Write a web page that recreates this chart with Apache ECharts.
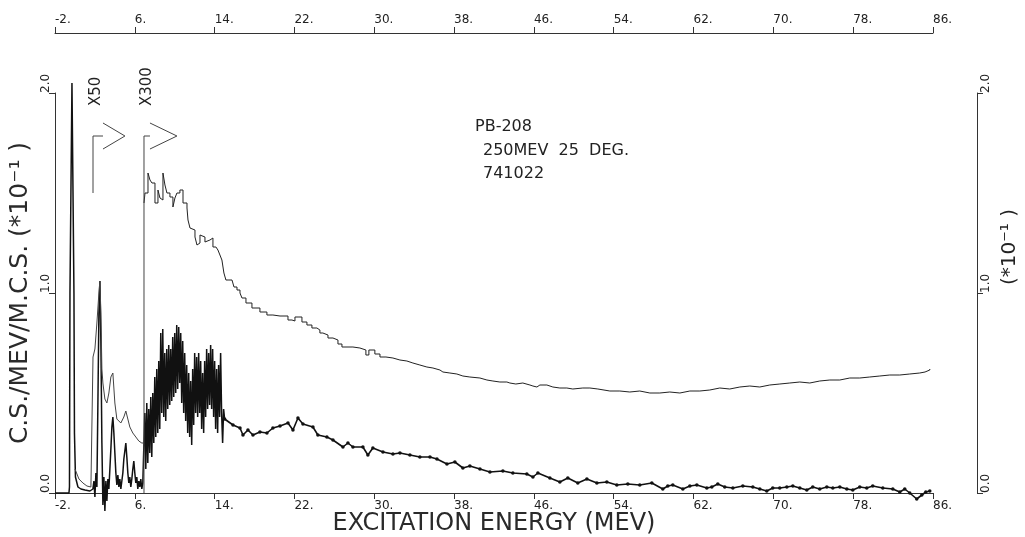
<!DOCTYPE html>
<html><head><meta charset="utf-8">
<script src="https://cdn.jsdelivr.net/npm/echarts@6/dist/echarts.min.js"></script>
<style>html,body{margin:0;padding:0;background:#fff}#c{width:1025px;height:537px}</style>
</head><body><div id="c"></div>
<script>
// ---- tick labels ----
const xTicks = [-2, 6, 14, 22, 30, 38, 46, 54, 62, 70, 78, 86];
const yTicks = [0, 1, 2];

// ---- thick curve (data with error bars), [energy MeV, value] ----
const thickElastic = [[-2,0],[-1.5,0],[-1.0,0],[-0.6,0],[-0.55,0.03],[-0.5,1.0],[-0.3,2.05],[-0.1,1.0],[-0.05,0.3],[0.05,0.08],[0.3,0.03],[0.6,0.02],[1.0,0.015],[1.5,0.01],[1.8,0.02]];
const thickX50 = [[1.9,0.06],[2.0,-0.02],[2.1,0.1],[2.2,0.03],[2.3,0.45],[2.4,0.9],[2.5,1.06],[2.6,0.75],[2.7,0.25],[2.8,-0.06],
  [2.9,0.08],[3.0,-0.09],[3.1,0.06],[3.2,-0.04],[3.3,0.07],[3.4,0.02],[3.5,0.12],[3.6,0.22],[3.7,0.33],[3.8,0.38],
  [3.9,0.3],[4.0,0.2],[4.1,0.1],[4.2,0.04],[4.3,0.09],[4.4,0.03],[4.5,0.07],[4.6,0.02],[4.7,0.06],[4.8,0.1],
  [4.9,0.17],[5.0,0.21],[5.1,0.25],[5.2,0.18],[5.3,0.1],[5.4,0.05],[5.5,0.08],[5.6,0.03],[5.7,0.07],[5.8,0.12],
  [5.9,0.16],[6.0,0.1],[6.1,0.05],[6.2,0.08],[6.3,0.02],[6.4,0.06],[6.5,0.03],[6.6,0.07],[6.7,0.02],[6.8,0.05]];
const thickX300 = [[6.9,0.05],[7.0,0.40],[7.1,0.12],[7.2,0.45],[7.3,0.15],[7.4,0.42],[7.5,0.20],[7.6,0.48],[7.7,0.18],[7.8,0.50],
  [7.9,0.25],[8.0,0.58],[8.1,0.28],[8.2,0.62],[8.3,0.30],[8.4,0.66],[8.5,0.32],[8.6,0.80],[8.7,0.40],[8.8,0.82],
  [8.9,0.38],[9.0,0.70],[9.1,0.36],[9.2,0.72],[9.3,0.42],[9.4,0.74],[9.5,0.44],[9.6,0.72],[9.7,0.46],[9.8,0.78],
  [9.9,0.48],[10.0,0.80],[10.1,0.50],[10.2,0.84],[10.3,0.52],[10.4,0.83],[10.5,0.55],[10.6,0.80],[10.7,0.45],[10.8,0.76],
  [10.9,0.40],[11.0,0.70],[11.1,0.36],[11.2,0.64],[11.3,0.30],[11.4,0.60],[11.5,0.28],[11.6,0.56],[11.7,0.24],[11.8,0.62],
  [11.9,0.34],[12.0,0.70],[12.1,0.40],[12.2,0.68],[12.3,0.38],[12.4,0.70],[12.5,0.40],[12.6,0.66],[12.7,0.32],[12.8,0.60],
  [12.9,0.30],[13.0,0.66],[13.1,0.38],[13.2,0.72],[13.3,0.42],[13.4,0.70],[13.5,0.44],[13.6,0.74],[13.7,0.42],[13.8,0.72],
  [13.9,0.38],[14.0,0.66],[14.1,0.32],[14.2,0.62],[14.3,0.30],[14.4,0.64],[14.5,0.38],[14.6,0.70],[14.7,0.40],[14.8,0.25],
  [14.9,0.42],[15.0,0.37]];
const thickTail = [[15.0,0.37],[15.84,0.34],[16.54,0.325],[16.84,0.29],[17.34,0.315],[17.84,0.29],[18.54,0.305],[19.24,0.30],[19.84,0.325],
  [20.55,0.335],[21.35,0.35],[21.85,0.315],[22.35,0.375],[22.85,0.345],[23.85,0.33],[24.35,0.29],[25.25,0.28],[25.86,0.265],
  [26.86,0.23],[27.36,0.25],[27.86,0.23],[28.86,0.23],[29.36,0.19],[29.86,0.225],[30.87,0.205],[31.87,0.195],[32.57,0.20],
  [33.57,0.19],[34.57,0.18],[35.58,0.18],[36.28,0.17],[37.28,0.145],[38.08,0.155],[38.88,0.125],[39.58,0.135],[40.59,0.12],
  [41.59,0.105],[42.89,0.11],[43.89,0.10],[45.29,0.095],[45.90,0.08],[46.40,0.10],[47.60,0.075],[48.60,0.055],[49.40,0.075],
  [50.40,0.05],[51.31,0.07],[52.31,0.05],[53.31,0.055],[54.31,0.04],[55.41,0.045],[56.61,0.04],[57.82,0.05],[58.92,0.02],
  [59.42,0.035],[59.92,0.04],[60.93,0.02],[61.63,0.035],[62.33,0.04],[63.33,0.025],[63.83,0.03],[64.43,0.045],[65.13,0.03],
  [65.94,0.025],[66.94,0.035],[67.94,0.03],[68.64,0.02],[69.34,0.01],[69.94,0.025],[70.64,0.025],[71.35,0.03],[71.95,0.035],
  [72.65,0.025],[73.35,0.015],[73.95,0.03],[74.65,0.02],[75.36,0.03],[75.96,0.025],[76.66,0.03],[77.36,0.02],[77.96,0.015],
  [78.66,0.03],[79.36,0.025],[79.96,0.035],[80.97,0.025],[81.97,0.02],[82.67,0.005],[83.17,0.02],[83.67,0.0],[84.37,-0.03],
  [84.88,-0.01],[85.28,0.005],[85.68,0.01]];

// ---- thin curves ----
const thinX50 = [[0.0,0.12],[0.4,0.07],[0.8,0.05],[1.2,0.035],[1.6,0.03],[1.8,0.03],[1.81,0.68],[2.0,0.72],[2.2,0.85],[2.4,1.0],
  [2.5,1.06],[2.6,0.9],[2.7,0.62],[2.8,0.55],[3.0,0.47],[3.2,0.45],[3.4,0.5],[3.6,0.58],[3.8,0.6],[4.0,0.45],[4.2,0.37],
  [4.4,0.36],[4.6,0.35],[4.9,0.38],[5.1,0.41],[5.3,0.37],[5.5,0.33],[5.8,0.3],[6.1,0.28],[6.4,0.26],[6.7,0.25],[6.92,0.25]];
const thinX300 = [[6.92,1.45],[7.02,1.50],[7.32,1.60],[7.52,1.565],[7.72,1.55],[8.02,1.45],[8.32,1.515],[8.52,1.475],[8.72,1.465],
  [8.82,1.60],[9.02,1.54],[9.22,1.50],[9.52,1.48],[9.82,1.43],[10.02,1.475],[10.22,1.50],[10.52,1.515],[10.83,1.45],[11.23,1.425],
  [11.33,1.365],[11.53,1.325],[11.73,1.315],[12.03,1.28],[12.23,1.24],[12.33,1.25],[12.53,1.29],[12.73,1.28],[13.03,1.255],
  [13.23,1.265],[13.53,1.275],[13.83,1.23],[14.13,1.225],[14.33,1.215],[14.53,1.19],[14.73,1.165],[14.93,1.10],[15.13,1.065],
  [15.43,1.065],[15.74,1.055],[15.94,1.03],[16.24,1.015],[16.54,1.00],[16.74,0.975],[17.14,0.95],[17.74,0.925],[18.54,0.905],
  [19.24,0.89],[19.84,0.885],[20.55,0.885],[21.35,0.865],[21.75,0.86],[22.05,0.88],[22.45,0.88],[22.75,0.855],[23.25,0.84],
  [23.75,0.825],[24.25,0.815],[24.55,0.80],[24.85,0.79],[25.36,0.775],[25.86,0.765],[26.36,0.745],[26.76,0.73],[27.86,0.725],
  [28.56,0.715],[29.16,0.69],[29.46,0.715],[30.06,0.695],[30.57,0.68],[31.17,0.675],[31.87,0.665],[32.57,0.66],[33.27,0.65],
  [33.87,0.64],[34.57,0.63],[35.27,0.625],[35.88,0.615],[36.58,0.605],[36.88,0.60],[37.58,0.595],[38.28,0.585],[38.88,0.58],
  [39.58,0.575],[40.59,0.565],[41.29,0.56],[41.89,0.555],[42.59,0.555],[43.29,0.55],[43.59,0.545],[44.19,0.55],[44.89,0.54],
  [45.60,0.535],[45.90,0.53],[46.30,0.54],[46.60,0.54],[47.30,0.53],[47.90,0.525],[48.60,0.525],[49.30,0.52],[49.90,0.525],
  [50.90,0.525],[51.61,0.52],[52.41,0.51],[53.61,0.51],[54.61,0.505],[55.61,0.51],[56.61,0.50],[57.62,0.50],[58.62,0.505],
  [59.62,0.50],[60.63,0.51],[61.63,0.51],[62.63,0.515],[63.63,0.525],[64.63,0.52],[65.63,0.53],[66.64,0.535],[67.64,0.53],
  [68.64,0.54],[69.64,0.545],[70.65,0.55],[71.65,0.555],[72.65,0.55],[73.65,0.56],[74.65,0.565],[75.66,0.565],[76.66,0.575],
  [77.66,0.575],[78.66,0.58],[79.66,0.585],[80.67,0.59],[81.67,0.59],[82.67,0.595],[83.67,0.60],[84.67,0.605],[85.2,0.615],[85.68,0.62]];

// ---- scale-change markers (X50, X300) in data coordinates ----
const x50Bracket = [[1.81,1.5],[1.81,1.785],[2.81,1.785]];
const x50Arrow = [[2.81,1.85],[5.01,1.785],[2.81,1.72]];
const x300Bracket = [[6.92,0],[6.92,1.785],[7.52,1.785]];
const x300Arrow = [[7.52,1.85],[10.22,1.785],[7.52,1.72]];

const FONT = 'DejaVu Sans';
const INK = '#222';

const chart = echarts.init(document.getElementById('c'), null, {renderer: 'canvas'});

function xAxisCfg(pos, offset, name) {
  return {
    type: 'value', min: -2, max: 86, position: pos, offset: offset,
    axisLine: {show: true, onZero: false, lineStyle: {color: '#333', width: 1}},
    axisTick: {show: true, customValues: xTicks, length: 6, lineStyle: {color: '#333'}},
    axisLabel: {customValues: xTicks, formatter: v => v + '.', align: 'left', margin: 7,
      fontSize: 12, color: INK, fontFamily: FONT},
    splitLine: {show: false},
    name: name, nameLocation: 'middle', nameGap: 19, nameMoveOverlap: false,
    nameTextStyle: {fontSize: 24, color: '#2a2a2a', fontFamily: FONT, verticalAlign: 'top'}
  };
}
function yAxisCfg(pos, offset, vAlign, name) {
  return {
    type: 'value', min: 0, max: 2, interval: 1, position: pos, offset: offset,
    axisLine: {show: true, onZero: false, lineStyle: {color: '#333', width: 1}},
    axisTick: {show: true, length: 6, lineStyle: {color: '#333'}},
    axisLabel: {rotate: 90, formatter: v => v.toFixed(1), align: 'left', verticalAlign: vAlign, margin: 3,
      fontSize: 12, color: INK, fontFamily: FONT},
    splitLine: {show: false},
    name: name, nameLocation: 'middle', nameGap: 22, nameRotate: 90, nameMoveOverlap: false,
    nameTextStyle: {fontSize: 25, color: '#2a2a2a', fontFamily: FONT}
  };
}
function lineSeries(data, opts) {
  return Object.assign({
    type: 'line', data: data, xAxisIndex: 0, yAxisIndex: 0, showSymbol: false, symbol: 'none',
    clip: false, silent: true, animation: false,
    lineStyle: {color: '#111', width: 1}
  }, opts);
}

chart.setOption({
  animation: false,
  backgroundColor: '#fff',
  grid: {left: 55, right: 92, top: 93, bottom: 44, outerBoundsMode: 'none', containLabel: false},
  xAxis: [xAxisCfg('bottom', 0, 'EXCITATION ENERGY (MEV)'), xAxisCfg('top', 60, '')],
  yAxis: [yAxisCfg('left', 0, 'bottom', 'C.S./MEV/M.C.S. (*10⁻¹ )'), yAxisCfg('right', 44, 'top', '')],
  series: [
    lineSeries(thickElastic.concat(thickX50, thickX300), {lineStyle: {color: '#111', width: 1.5}}),
    lineSeries(thickTail, {showSymbol: true, symbol: 'circle', symbolSize: 3.5,
      itemStyle: {color: '#111'}, lineStyle: {color: '#111', width: 1.6}}),
    lineSeries(thinX50, {lineStyle: {color: '#444', width: 1}}),
    lineSeries(thinX300, {step: 'end', lineStyle: {color: '#222', width: 1}}),
    lineSeries(x50Bracket, {lineStyle: {color: '#444', width: 1}}),
    lineSeries(x50Arrow, {lineStyle: {color: '#444', width: 1}}),
    lineSeries(x300Bracket, {lineStyle: {color: '#444', width: 1}}),
    lineSeries(x300Arrow, {lineStyle: {color: '#444', width: 1}})
  ],
  graphic: [
    {type: 'text', left: 475, top: 119, style: {text: 'PB-208', font: '16px ' + FONT, fill: INK}},
    {type: 'text', left: 483, top: 143, style: {text: '250MEV  25  DEG.', font: '16px ' + FONT, fill: INK}},
    {type: 'text', left: 483, top: 166, style: {text: '741022', font: '16px ' + FONT, fill: INK}},
    {type: 'text', x: 104, y: 106, rotation: Math.PI / 2,
      style: {text: 'X50', font: '15px ' + FONT, fill: INK, align: 'left', verticalAlign: 'bottom'}},
    {type: 'text', x: 155, y: 106, rotation: Math.PI / 2,
      style: {text: 'X300', font: '15px ' + FONT, fill: INK, align: 'left', verticalAlign: 'bottom'}},
    {type: 'text', x: 1020, y: 285, rotation: Math.PI / 2,
      style: {text: '(*10⁻¹ )', font: '20px ' + FONT, fill: INK, align: 'left', verticalAlign: 'bottom'}}
  ]
});
</script>
</body></html>
